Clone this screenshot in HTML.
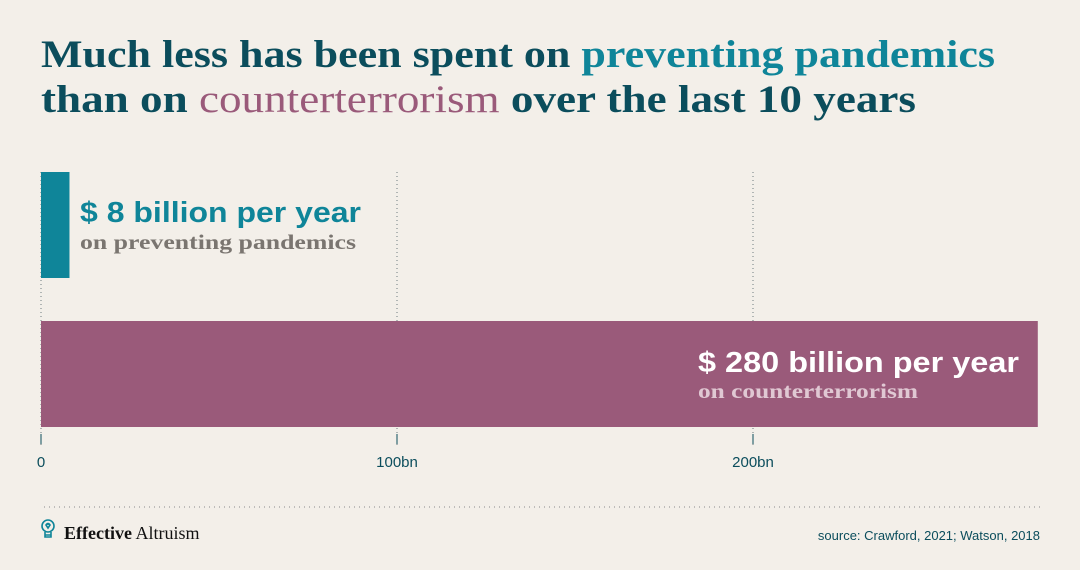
<!DOCTYPE html>
<html><head><meta charset="utf-8"><style>
html,body{margin:0;padding:0;background:#f3efe9;}
svg{display:block}
</style></head><body>
<svg id="chart" width="1080" height="570" viewBox="0 0 1080 570" xmlns="http://www.w3.org/2000/svg">
<rect width="1080" height="570" fill="#f3efe9"/>
<g font-family="Liberation Serif, serif" font-weight="bold" font-size="39" fill="#0b4d5c">
<text x="41" y="67" textLength="954" lengthAdjust="spacingAndGlyphs">Much less has been spent on <tspan fill="#0f8599">preventing pandemics</tspan></text>
<text x="41" y="112" textLength="875" lengthAdjust="spacingAndGlyphs">than on <tspan fill="#9a5a7a" font-weight="normal">counterterrorism</tspan> over the last 10 years</text>
</g>
<g id="grid"></g>
<g id="bars"></g>
<g id="ticks"></g>
<g>
<text x="80" y="222" font-family="Liberation Sans, sans-serif" font-weight="bold" font-size="29" fill="#0f8599" textLength="281" lengthAdjust="spacingAndGlyphs">$ 8 billion per year</text>
<text x="80" y="249" font-family="Liberation Serif, serif" font-weight="bold" font-size="21" fill="#7a7570" textLength="276" lengthAdjust="spacingAndGlyphs">on preventing pandemics</text>
<text x="698" y="372" font-family="Liberation Sans, sans-serif" font-weight="bold" font-size="29" fill="#ffffff" textLength="321" lengthAdjust="spacingAndGlyphs">$ 280 billion per year</text>
<text x="698" y="398" font-family="Liberation Serif, serif" font-weight="bold" font-size="21" fill="#e0c8d3" textLength="220" lengthAdjust="spacingAndGlyphs">on counterterrorism</text>
</g>
<line x1="44" y1="507" x2="1040" y2="507" stroke="#8a8a8a" stroke-width="1" stroke-dasharray="1 4"/>
<g>
<g fill="none" stroke="#0f8599" stroke-width="1.6">
<circle cx="48" cy="526" r="6"/><path d="M45 532 v5 h6 v-5 M45 535 h6"/><path d="M46 525 q2 -3 2 0 q0 -3 2 0 l-2 3 z"/>
</g>
<text x="64" y="539" font-family="Liberation Serif, serif" font-size="18" fill="#111"><tspan font-weight="bold">Effective</tspan> Altruism</text>
</g>
<text x="1040" y="540" text-anchor="end" font-family="Liberation Sans, sans-serif" font-size="13" fill="#0b4d5c">source: Crawford, 2021; Watson, 2018</text>
</svg>
<script>
const categories = ["preventing pandemics", "counterterrorism"];
const values = [8, 280];
const colors = ["#0f8599", "#9a5a7a"];
const tickValues = [0, 100, 200];
const tickLabels = ["0", "100bn", "200bn"];
const NS = "http://www.w3.org/2000/svg";
const x0 = 41, pxPerBn = 3.56;
function xScale(v){ return x0 + v * pxPerBn; }
const barTop = [172, 321], barH = 106;
const grid = document.getElementById('grid');
const bars = document.getElementById('bars');
const ticks = document.getElementById('ticks');
tickValues.forEach((t, i) => {
  const gl = document.createElementNS(NS, 'line');
  
  
  gl.setAttribute('x1', xScale(t)); gl.setAttribute('x2', xScale(t));
  gl.setAttribute('y1', 172); gl.setAttribute('y2', 446);
  gl.setAttribute('stroke', '#6e7b7e'); gl.setAttribute('stroke-width', 1);
  gl.setAttribute('stroke-dasharray', '1 3');
  grid.appendChild(gl);
  const tk = document.createElementNS(NS, 'line');
  
  
  tk.setAttribute('x1', xScale(t)); tk.setAttribute('x2', xScale(t));
  tk.setAttribute('y1', 434); tk.setAttribute('y2', 444);
  tk.setAttribute('stroke', '#0b4d5c'); tk.setAttribute('stroke-width', 1);
  ticks.appendChild(tk);
  const tl = document.createElementNS(NS, 'text');
  
  
  tl.setAttribute('x', xScale(t)); tl.setAttribute('y', 467);
  tl.setAttribute('text-anchor', 'middle');
  tl.setAttribute('font-family', 'Liberation Sans, sans-serif');
  tl.setAttribute('font-size', '15'); tl.setAttribute('fill', '#0b4d5c');
  tl.textContent = tickLabels[i];
  ticks.appendChild(tl);
});
values.forEach((v, i) => {
  const r = document.createElementNS(NS, 'rect');
  
  
  r.setAttribute('x', xScale(0)); r.setAttribute('y', barTop[i]);
  r.setAttribute('width', xScale(v) - xScale(0)); r.setAttribute('height', barH);
  r.setAttribute('fill', colors[i]);
  bars.appendChild(r);
});
</script>
</body></html>
